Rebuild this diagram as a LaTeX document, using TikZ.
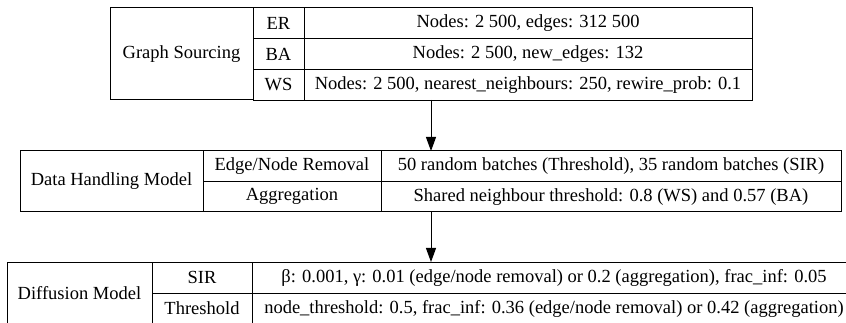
\documentclass[tikz,border=0pt]{standalone}
\usepackage{fontspec}
\setmainfont{Liberation Serif}
\usetikzlibrary{arrows.meta}
\begin{document}
\begin{tikzpicture}[x=1pt, y=-1pt, font=\fontsize{18.5}{22}\selectfont, line width=1pt, >={Triangle[length=14pt,width=10pt]},
	cell/.style={draw, inner sep=0pt, outer sep=0pt}]
	\useasboundingbox (0,0) rectangle (846,323);
	% graph sourcing
	\node[cell, minimum width=143pt, minimum height=92pt] (gs) at (181.5,54) {Graph Sourcing};
	\node[cell, minimum width=51pt, minimum height=30.7pt] (er) at (278.5,23.3) {ER};
	\node[cell, minimum width=51pt, minimum height=30.7pt] (ba) at (278.5,54) {BA};
	\node[cell, minimum width=51pt, minimum height=30.7pt] (ws) at (278.5,84.7) {WS};
	\node[cell, minimum width=448pt, minimum height=30.7pt] (erp) at (528,23.3) {Nodes: 2 500, edges: 312 500};
	\node[cell, minimum width=448pt, minimum height=30.7pt] (bap) at (528,54) {Nodes: 2 500, new\_edges: 132};
	\node[cell, minimum width=448pt, minimum height=30.7pt] (wsp) at (528,84.7) {Nodes: 2 500, nearest\_neighbours: 250, rewire\_prob: 0.1};
	% data handling
	\node[cell, minimum width=183pt, minimum height=61pt] (dh) at (111.5,181.5) {Data Handling Model};
	\node[cell, minimum width=178pt, minimum height=30.5pt] (rem) at (292,166.25) {Edge/Node Removal};
	\node[cell, minimum width=178pt, minimum height=30.5pt] (agg) at (292,196.75) {Aggregation};
	\node[cell, minimum width=460pt, minimum height=30.5pt] (remp) at (611,166.25) {50 random batches (Threshold), 35 random batches (SIR)};
	\node[cell, minimum width=460pt, minimum height=30.5pt] (aggp) at (611,196.75) {Shared neighbour threshold: 0.8 (WS) and 0.57 (BA)};
	% diffusion
	\node[cell, minimum width=145pt, minimum height=62pt] (dm) at (79.5,293) {Diffusion Model};
	\node[cell, minimum width=100pt, minimum height=31pt] (sir) at (202,277.5) {SIR};
	\node[cell, minimum width=100pt, minimum height=31pt] (thr) at (202,308.5) {Threshold};
	\node[cell, minimum width=604pt, minimum height=31pt] (sirp) at (554,277.5) {β: 0.001, γ: 0.01 (edge/node removal) or 0.2 (aggregation), frac\_inf: 0.05};
	\node[cell, minimum width=604pt, minimum height=31pt] (thrp) at (554,308.5) {node\_threshold: 0.5, frac\_inf: 0.36 (edge/node removal) or 0.42 (aggregation)};
	% arrows
	\coordinate (gsout) at (431,100);
	\coordinate (dhin) at (431,151);
	\coordinate (dhout) at (431,212);
	\coordinate (dmin) at (431,262);
	\draw[->] (gsout)--(dhin);
	\draw[->] (dhout)--(dmin);
\end{tikzpicture}
\end{document}
